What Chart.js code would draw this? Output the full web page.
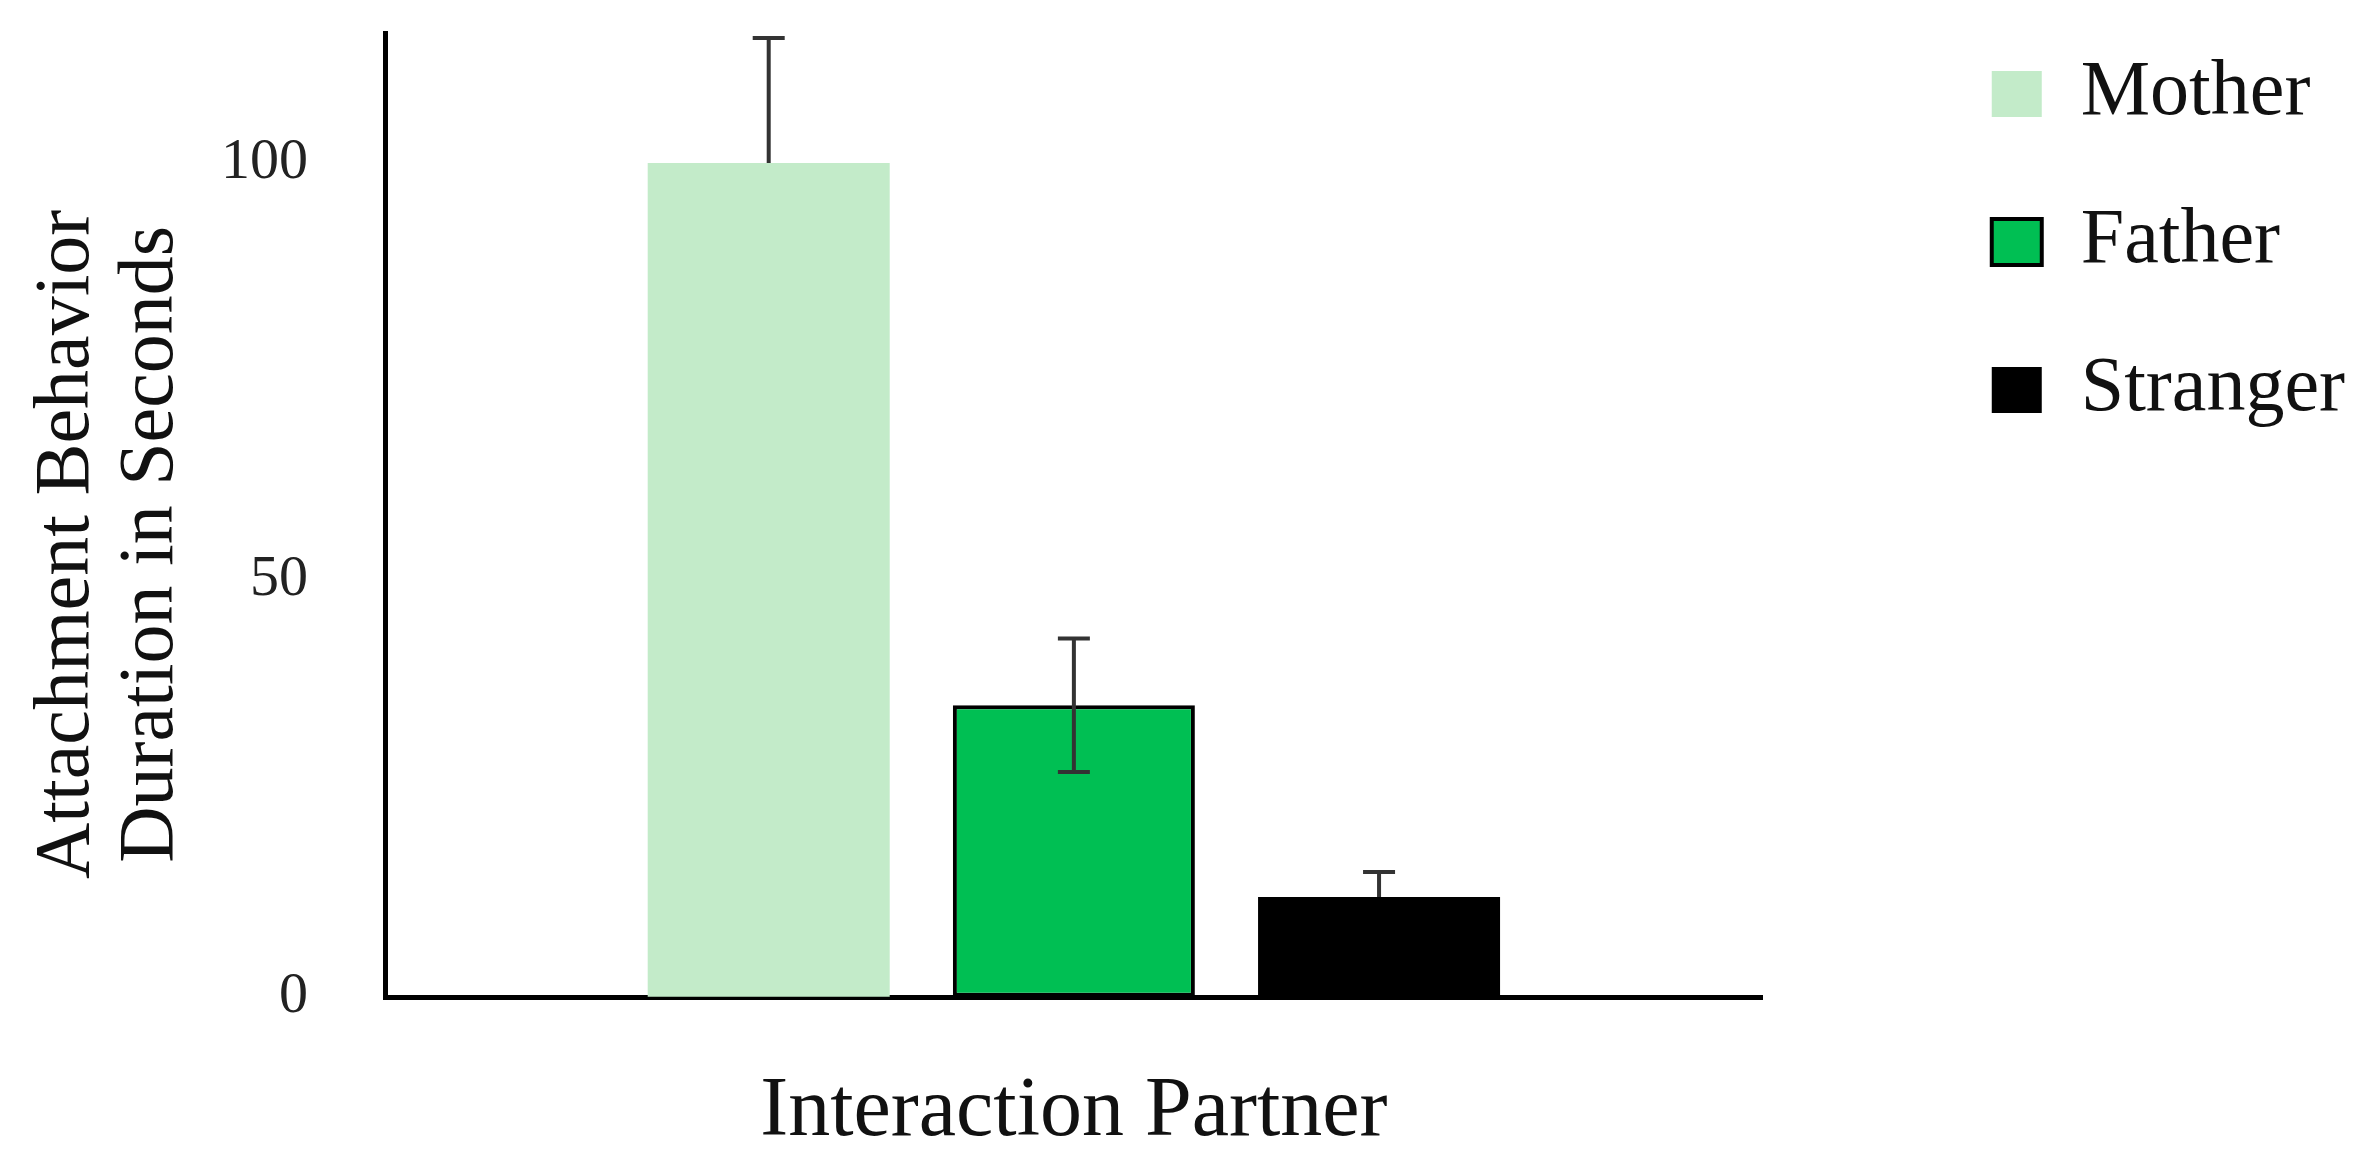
<!DOCTYPE html>
<html>
<head>
<meta charset="utf-8">
<script src="https://cdn.jsdelivr.net/npm/chart.js@4/dist/chart.umd.min.js"></script>
<style>
  html, body { margin: 0; padding: 0; background: #fff; }
  #wrap { width: 2379px; height: 1164px; }
</style>
</head>
<body>
<div id="wrap"><canvas id="barChart"></canvas></div>
<script>
// data
const categories = ["Interaction Partner"];
const seriesNames = ["Mother", "Father", "Stranger"];
const seriesValues = [100, 35, 12];
const errPlus = [15, 8, 3];
const errMinus = [0, 8, 0];
const yTicks = [0, 50, 100];

const fills = ["#c3ebc9", "#00bf53", "#000000"];
const borders = ["#c3ebc9", "#000000", "#000000"];
const borderWidths = [0, 4, 0];
const serif = "'Liberation Serif', 'Times New Roman', serif";

// simple error bar drawing on top of the bars
const errorBars = {
  id: "errorBars",
  afterDatasetsDraw(chart) {
    const ctx = chart.ctx;
    const y = chart.scales.y;
    ctx.save();
    ctx.strokeStyle = "#333";
    ctx.lineWidth = 4;
    chart.data.datasets.forEach((ds, i) => {
      const bar = chart.getDatasetMeta(i).data[0];
      const v = ds.data[0];
      const top = y.getPixelForValue(v + errPlus[i]);
      const bottom = y.getPixelForValue(v - errMinus[i]);
      ctx.beginPath();
      ctx.moveTo(bar.x, top);
      ctx.lineTo(bar.x, bottom);
      ctx.moveTo(bar.x - 16, top);
      ctx.lineTo(bar.x + 16, top);
      if (errMinus[i] > 0) {
        ctx.moveTo(bar.x - 16, bottom);
        ctx.lineTo(bar.x + 16, bottom);
      }
      ctx.stroke();
    });
    ctx.restore();
  }
};

window.chart = new Chart(document.getElementById("barChart"), {
  type: "bar",
  data: {
    labels: categories,
    datasets: seriesNames.map((name, i) => ({
      label: name,
      data: [seriesValues[i]],
      backgroundColor: fills[i],
      borderColor: borders[i],
      borderWidth: borderWidths[i],
      borderSkipped: false,
      categoryPercentage: 0.6645,
      barPercentage: 0.793,
    })),
  },
  options: {
    responsive: true,
    maintainAspectRatio: false,
    animation: false,
    layout: { padding: { left: 0, right: 24, top: -15, bottom: 1 } },
    plugins: {
      tooltip: { enabled: false },
      legend: {
        position: "right",
        align: "start",
        labels: {
          boxWidth: 50,
          boxHeight: 46,
          padding: 70,
          color: "#111",
          font: { family: serif, size: 78 },
        },
      },
    },
    scales: {
      x: {
        grid: { display: false, drawTicks: false },
        border: { display: true, color: "#000", width: 5 },
        ticks: { display: false },
        title: {
          display: true,
          text: "Interaction Partner",
          color: "#111",
          font: { family: serif, size: 84, lineHeight: 1.2 },
          padding: { top: 65, bottom: 0 },
        },
      },
      // spacer above the plot
      x2: {
        display: false,
        position: "top",
        afterFit(s) { s.height = 48; },
      },
      y: {
        min: 0,
        max: 115.6,
        afterBuildTicks(s) { s.ticks = yTicks.map((v) => ({ value: v })); },
        grid: {
          display: true,
          drawOnChartArea: false,
          drawTicks: true,
          tickLength: 77,
          color: "rgba(0,0,0,0)",
        },
        border: { display: true, color: "#000", width: 5 },
        ticks: {
          padding: 0,
          color: "#222",
          font: { family: serif, size: 58, lineHeight: 1 },
        },
        title: {
          display: true,
          // trailing nbsp nudges the centred title slightly lower, as in the figure
          text: ["Attachment Behavior\u00a0\u00a0\u00a0", "Duration in Seconds\u00a0\u00a0\u00a0"],
          color: "#111",
          font: { family: serif, size: 78, lineHeight: 1.077 },
          padding: { top: 26, bottom: 27 },
        },
        afterFit(s) { s.width = 385; },
      },
      // spacer between plot and legend
      y2: {
        display: false,
        position: "right",
        afterFit(s) { s.width = 159; },
      },
    },
  },
  plugins: [errorBars],
});
</script>
</body>
</html>
